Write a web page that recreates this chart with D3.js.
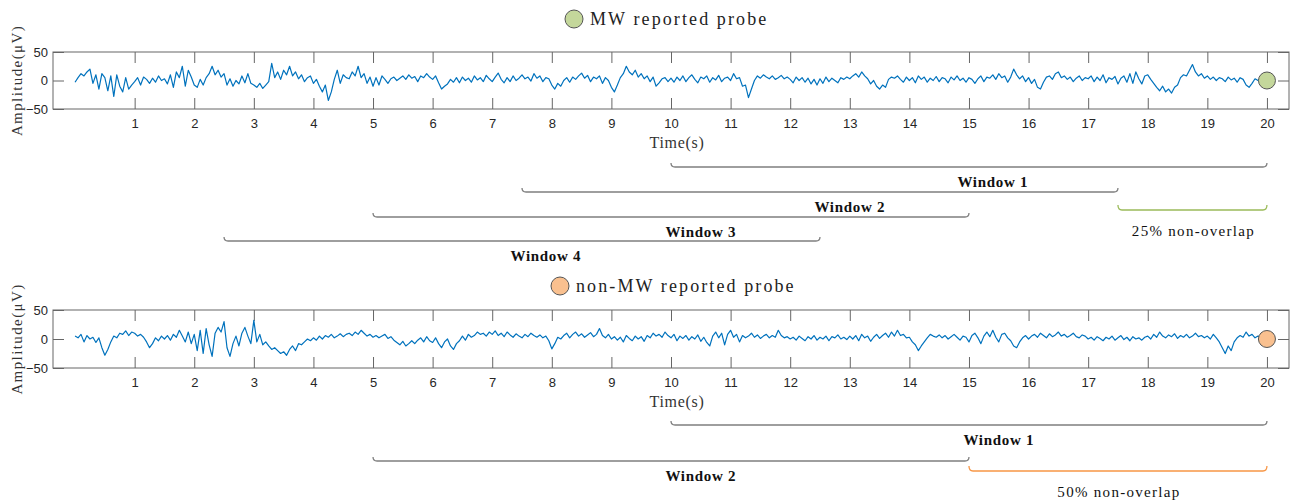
<!DOCTYPE html>
<html>
<head>
<meta charset="utf-8">
<script src="https://cdn.jsdelivr.net/npm/d3@7"></script>
<style>
  body { margin: 0; background: #fff; }
  svg { display: block; }
</style>
</head>
<body>
<svg id="chart" width="1295" height="502"></svg>
<script>
// sampled every 0.05 s, µV, one row per second
var sampleStep = 0.05;

var mwSignal = [
  -3, 5, 12, 8, 15, 20, -5, 10, -15, 12, 5, -18, 8, -28, 10, -10, -20, 5, -15, -8,
  -2, 5, -8, 6, 2, -5, 4, -3, 8, 0, 3, -6, 10, -12, 15, 5, 25, -10, 18, 6,
  -8, -12, 2, -8, 5, 12, 25, 10, 18, 6, 12, -8, 3, -10, 0, -6, 8, -4, 12, -5,
  -8, -12, -5, -14, -8, -2, 30, 5, 15, 2, 18, 10, 25, 8, 15, 3, 10, -2, 5, 8,
  -5, 2, -10, -20, -8, -35, -20, 2, 18, -5, 10, 5, 3, 15, 8, 25, 5, 12, -5, 6,
  -10, 5, -8, 8, 2, -5, 3, 6, 0, 4, 8, 2, 10, 4, 7, -2, 8, 5, 12, 6,
  2, 8, -4, -15, -10, -6, 2, -3, 5, -4, 6, 0, 4, -3, 8, 1, 5, -2, 9, 3,
  -2, 6, 13, 2, -4, 5, -2, 8, 0, 4, 10, 3, 6, -1, 12, 4, 8, -2, 5, 3,
  -8, -15, -5, -10, 0, 5, -3, 6, 2, 8, 13, 4, 9, -2, 6, 3, 8, -5, 5, 0,
  -12, -20, -8, 5, 12, 25, 15, 10, 18, 6, 12, 3, 8, -2, 6, -10, -4, 3, 5, -2,
  4, -3, 6, 0, 8, -2, 5, 10, 2, -4, 6, 3, 8, -3, 5, 1, 9, -2, 4, 6,
  0, 12, 3, 5, -10, -8, -30, -15, 0, 8, 4, 10, 6, 3, 8, 2, 5, 9, 3, 6,
  2, -4, 6, 0, 5, -3, 4, -6, 2, -8, 3, -5, 6, -2, 4, 0, -4, 5, 2, 6,
  3, 8, 12, 6, 15, 8, 3, -6, 0, -10, -15, -8, -12, 2, 6, 4, 8, 2, -3, 6,
  0, 5, -4, 8, 2, 6, -3, 4, 0, 7, -2, 5, 3, -4, 6, 1, 8, 0, 4, -3,
  5, 2, -5, 3, 8, -2, 6, 4, 10, 2, 12, 5, 8, -3, 6, 20, 10, 3, 8, -2,
  5, -5, 2, -12, -15, -3, 6, 8, 2, 12, 15, 5, 8, 2, 6, -2, 4, 8, 0, 5,
  3, 8, -2, 6, 0, 10, -4, 5, 2, 7, -6, 4, 8, -3, 12, -5, 15, 3, -6, 8,
  10, 2, -5, -12, -18, -10, -20, -15, -22, -12, -8, 5, 10, 8, 18, 28, 15, 8, 12, 4,
  8, 2, 6, 0, 5, 3, -2, 6, 1, 4, -3, 5, 2, -8, -12, -5, 3, 0, 2, -2,
  0
];

var nonMwSignal = [
  5, 2, 8, -5, 6, 0, 3, -6, 2, -15, -28, -18, -5, 5, 2, 10, 8, 14, 6, 12,
  10, 5, 8, 3, -5, -15, -8, 2, -3, 5, 0, 6, -2, 8, 3, 15, 5, -5, 12, -8,
  8, -20, 15, -25, 18, -10, -30, 10, 20, 12, 30, -15, -30, -8, 5, -12, 10, 20, 5, -8,
  32, -5, 8, -10, -5, -12, -18, -15, -20, -25, -22, -28, -18, -12, -20, -8, -10, -5, 0, -3,
  2, -2, 5, 0, 6, 3, 8, 2, 5, 9, 4, 8, 10, 6, 12, 8, 15, 10, 5, 8,
  3, 6, 2, 5, 8, 1, 4, -2, -6, -10, -4, -12, -8, -3, -8, -2, 2, -5, 4, -3,
  -6, 2, -8, -15, -5, 0, -12, -18, -8, -3, 5, -2, 8, 3, 6, 12, 8, 10, 5, 12,
  8, 14, 6, 10, 4, 12, 7, 3, 9, 5, 2, 8, 4, 10, 6, 3, 7, 2, 5, -3,
  -17, -8, 3, 0, 6, 10, 2, 8, 12, 5, 9, 3, 7, 11, 4, 8, 18, 6, 2, 8,
  0, 4, -2, 3, -5, 6, 1, -3, 5, 0, 4, -4, 6, 2, 10, 5, 8, 3, 12, 6,
  2, 8, -3, 5, 1, 6, -2, 4, 0, 7, -4, 3, -6, -12, 5, 12, 2, 10, -10, 8,
  15, 3, 8, -5, 6, 2, 5, 10, 3, 7, 1, 5, 8, 2, 6, 3, 15, 6, 2, 4,
  0, 3, -2, 5, 1, -3, 4, 0, 6, -2, 3, 0, 5, -3, 4, 2, 7, 0, 3, -1,
  5, 0, 6, -3, 8, 2, 5, -4, 3, 8, 1, 6, 10, 3, 12, 5, 15, 6, 8, 2,
  3, -5, -10, -20, -12, -5, 2, 8, 5, 3, 7, 2, 6, 0, 4, 8, 3, -2, 5, 3,
  -5, 6, 10, 2, -8, 5, 12, 4, 15, 3, -5, 8, 10, 2, -3, -12, -15, -5, 2, 6,
  0, 5, 8, 3, 10, 6, 2, 9, 4, 7, 12, 5, 8, 3, 6, 10, 4, 2, 7, 5,
  0, 3, -2, 4, 1, -3, 3, 0, 5, -2, 2, 6, -1, 3, -3, 4, 0, 2, -2, 3,
  5, 0, 8, 3, 12, 5, 2, 7, 4, 9, 1, 6, 3, 8, 2, 5, 10, 4, 6, 2,
  5, 0, 8, 2, -5, -15, -25, -12, -20, -5, 2, 6, 3, 12, 5, 8, 2, 5, 3, 1,
  0
];

var xTicks = [1, 2, 3, 4, 5, 6, 7, 8, 9, 10, 11, 12, 13, 14, 15, 16, 17, 18, 19, 20];
var yTicks = [-50, 0, 50];
var probeTime = 20;

// windows: [start, end, label time]
var mwWindows = [[10, 20, 15.4], [7.5, 17.5, 13], [5, 15, 10.5], [2.5, 12.5, 7.9]];
var mwWindowNames = ["Window 1", "Window 2", "Window 3", "Window 4"];
var mwNonOverlap = [17.5, 20];
var nonMwWindows = [[10, 20, 15.5], [5, 15, 10.5]];
var nonMwWindowNames = ["Window 1", "Window 2"];
var nonMwNonOverlap = [15, 20];

var svg = d3.select("#chart");
var serif = "'Liberation Serif', 'DejaVu Serif', serif";
var sans = "Arial, 'Liberation Sans', Helvetica, sans-serif";

var x = d3.scaleLinear().domain([-0.37, 20.37]).range([53, 1289]);

function drawPanel(cfg) {
  var y = d3.scaleLinear().domain([-50, 50]).range([cfg.bottom, cfg.top]);
  var g = svg.append("g");

  // title with probe marker
  g.append("circle").attr("cx", cfg.titleX).attr("cy", cfg.titleY).attr("r", 9)
    .attr("fill", cfg.probeColor).attr("stroke", "#555").attr("stroke-width", 1);
  g.append("text").attr("x", cfg.titleX + 16).attr("y", cfg.titleY + 6)
    .attr("font-family", serif).attr("font-size", 18).attr("letter-spacing", 2.1)
    .attr("fill", "#222").text(cfg.title);

  // axes, ticks pointing inward on all four sides
  g.append("g").attr("transform", "translate(0," + cfg.bottom + ")")
    .call(d3.axisBottom(x).tickValues(xTicks).tickSize(-11).tickPadding(10).tickFormat(d3.format("d")));
  g.append("g").attr("transform", "translate(0," + cfg.top + ")")
    .call(d3.axisTop(x).tickValues(xTicks).tickSize(-11).tickFormat(""));
  g.append("g").attr("transform", "translate(" + x.range()[0] + ",0)")
    .call(d3.axisLeft(y).tickValues(yTicks).tickSize(-11).tickPadding(5));
  g.append("g").attr("transform", "translate(" + x.range()[1] + ",0)")
    .call(d3.axisRight(y).tickValues(yTicks).tickSize(-11).tickFormat(""));

  g.selectAll(".domain").remove();
  g.selectAll(".tick line").attr("stroke", "#666");
  g.selectAll(".tick text").attr("font-family", sans).attr("font-size", 13).attr("fill", "#262626");

  g.append("rect").attr("x", x.range()[0]).attr("y", cfg.top)
    .attr("width", x.range()[1] - x.range()[0]).attr("height", cfg.bottom - cfg.top)
    .attr("fill", "none").attr("stroke", "#666").attr("stroke-width", 1);

  // signal
  var line = d3.line()
    .x(function (d, i) { return x(i * sampleStep); })
    .y(function (d) { return y(d); });
  g.append("path").datum(cfg.signal)
    .attr("d", line).attr("fill", "none")
    .attr("stroke", "#0072BD").attr("stroke-width", 1.2).attr("stroke-linejoin", "round");

  g.append("circle").attr("cx", x(probeTime)).attr("cy", y(0)).attr("r", 8.5)
    .attr("fill", cfg.probeColor).attr("stroke", "#555").attr("stroke-width", 1);

  // axis labels
  g.append("text").attr("x", x(10) + 6).attr("y", cfg.bottom + 39)
    .attr("text-anchor", "middle").attr("font-family", serif).attr("font-size", 16)
    .attr("letter-spacing", 0.7).attr("fill", "#333").text("Time(s)");
  g.append("text")
    .attr("transform", "translate(22," + ((cfg.top + cfg.bottom) / 2) + ") rotate(-90)")
    .attr("text-anchor", "middle").attr("font-family", serif).attr("font-size", 15)
    .attr("letter-spacing", 1.4).attr("fill", "#333").text("Amplitude(μV)");

  // windows
  cfg.windows.forEach(function (w, i) {
    var yy = cfg.windowY[i];
    g.append("path").attr("d", bracket(x(w[0]), x(w[1]), yy, 4))
      .attr("fill", "none").attr("stroke", "#7f7f7f").attr("stroke-width", 1.3);
    g.append("text").attr("x", x(w[2])).attr("y", yy + 20)
      .attr("text-anchor", "middle").attr("font-family", serif).attr("font-size", 15)
      .attr("letter-spacing", 0.7).attr("font-weight", "bold").attr("fill", "#111")
      .text(cfg.windowNames[i]);
  });

  var n = cfg.nonOverlap;
  g.append("path").attr("d", bracket(x(n[0]), x(n[1]), cfg.nonOverlapY, 5))
    .attr("fill", "none").attr("stroke", cfg.nonOverlapColor).attr("stroke-width", 1.3);
  g.append("text").attr("x", (x(n[0]) + x(n[1])) / 2 + 1).attr("y", cfg.nonOverlapY + 26)
    .attr("text-anchor", "middle").attr("font-family", serif).attr("font-size", 15)
    .attr("letter-spacing", 1.3).attr("fill", "#111").text(cfg.nonOverlapLabel);
}

// flat bracket with ends curling upward
function bracket(x1, x2, yy, h) {
  return "M" + x1 + "," + (yy - h) +
    " Q" + x1 + "," + yy + " " + (x1 + 4) + "," + yy +
    " L" + (x2 - 4) + "," + yy +
    " Q" + x2 + "," + yy + " " + x2 + "," + (yy - h);
}

drawPanel({
  top: 52, bottom: 109, signal: mwSignal,
  title: "MW reported probe", titleX: 574, titleY: 19, probeColor: "#c4d79b",
  windows: mwWindows, windowNames: mwWindowNames, windowY: [167, 192, 217, 241],
  nonOverlap: mwNonOverlap, nonOverlapY: 210, nonOverlapColor: "#9bbb59",
  nonOverlapLabel: "25% non-overlap"
});

drawPanel({
  top: 310, bottom: 368, signal: nonMwSignal,
  title: "non-MW reported probe", titleX: 560, titleY: 286, probeColor: "#f9c08f",
  windows: nonMwWindows, windowNames: nonMwWindowNames, windowY: [425, 461],
  nonOverlap: nonMwNonOverlap, nonOverlapY: 471, nonOverlapColor: "#f79646",
  nonOverlapLabel: "50% non-overlap"
});
</script>
</body>
</html>
